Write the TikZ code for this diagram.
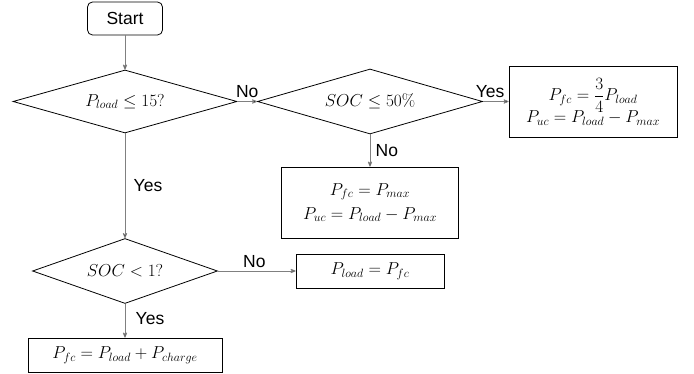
\documentclass[tikz,border=0pt]{standalone}
\usepackage{amsmath}
\usepackage[no-math]{fontspec}
\setmainfont{Liberation Sans}
\usetikzlibrary{arrows}
\usetikzlibrary{shapes.geometric}

\begin{document}
\begin{tikzpicture}[x=1pt,y=-1pt,
    every node/.style={font=\fontsize{17.5}{22}\selectfont},
    dec/.style={draw,diamond,inner sep=0pt,line width=0.8pt},
    box/.style={draw,rectangle,align=center,inner sep=0pt,line width=0.8pt},
    flow/.style={draw=gray,line width=0.8pt,->,>=stealth'}]

  \useasboundingbox (0,0) rectangle (694,374);

  \node [box,rounded corners=5pt,minimum width=75pt,minimum height=33pt] (start) at (125,18.5) {Start};

  \node [dec,aspect=3.55,minimum width=224pt,minimum height=63pt] (d_load) at (125,101.5) {$P_{load} \leq 15?$};
  \node [dec,aspect=3.46,minimum width=225pt,minimum height=65pt] (d_soc50) at (370,101.5) {$SOC \leq 50\%$};
  \node [dec,aspect=2.85,minimum width=185pt,minimum height=65pt] (d_soc1) at (125,271) {$SOC < 1?$};

  \node [box,minimum width=168pt,minimum height=71pt] (b_frac) at (593,101.5)
    {$P_{fc} = \dfrac{3}{4} P_{load}$ \\[-3pt] $P_{uc} = P_{load} - P_{max}$};
  \node [box,minimum width=177pt,minimum height=71pt] (b_max) at (370,202.5)
    {$P_{fc} = P_{max}$ \\[2pt] $P_{uc} = P_{load} - P_{max}$};
  \node [box,minimum width=148pt,minimum height=34pt] (b_fc) at (370,271) {$P_{load} = P_{fc}$};
  \node [box,minimum width=194pt,minimum height=34pt] (b_charge) at (125,355) {$P_{fc} = P_{load} + P_{charge}$};

  \path [flow]
    (start)   edge (d_load)
    (d_load)  edge node [above] {No} (d_soc50)
    (d_soc50) edge node [above,pos=0.28] {Yes} (b_frac)
    (d_soc50) edge node [right,xshift=2pt] {No} (b_max)
    (d_load)  edge node [right,xshift=5pt] {Yes} (d_soc1)
    (d_soc1)  edge node [above,pos=0.47] {No} (b_fc)
    (d_soc1)  edge node [right,xshift=7pt,pos=0.45] {Yes} (b_charge);

\end{tikzpicture}
\end{document}
